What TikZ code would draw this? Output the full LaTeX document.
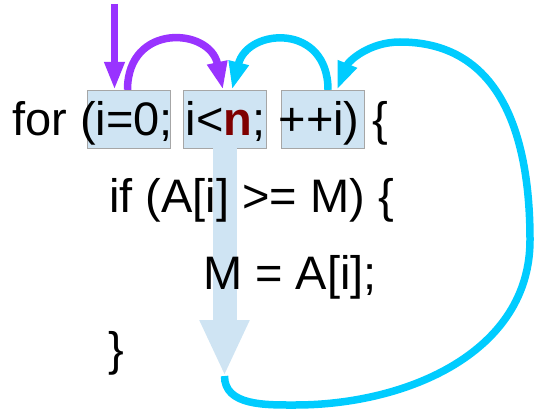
\documentclass[tikz,border=0pt]{standalone}
\usepackage{fontspec}
\setmainfont{Liberation Sans}
\usetikzlibrary{arrows.meta, positioning}
\definecolor{boxblue}{HTML}{CFE4F3}
\definecolor{loopviolet}{HTML}{9933FF}
\definecolor{loopcyan}{HTML}{00CCFF}
\definecolor{bound}{HTML}{7F0000}

\begin{document}
\begin{tikzpicture}[x=1pt, y=1pt,
  part/.style={draw=gray!70, fill=boxblue, minimum width=83pt, minimum height=58pt, inner sep=0pt},
  code/.style={anchor=base west, inner sep=0pt, font=\fontsize{47}{56}\selectfont},
  jump/.style={line width=7.5pt, -{Triangle[length=28pt,width=19pt]}},
  flow/.style={boxblue, line width=24pt, -{Triangle[length=56pt,width=46pt]}}]
  \useasboundingbox (0,0) rectangle (534,413);
  % ---- the three parts of the loop header ----
  \node[part] (init) at (128.5,294) {};
  \node[part] (cond) at (224.5,294) {};
  \node[part] (incr) at (323,294) {};
  % ---- body runs straight down ----
  \coordinate (ftip) at (224.5,37);
  \draw[flow] (cond.south) -- (ftip);
  % ---- code lines ----
  \node[code] (forline) at (12,278) {for (i=0; i<\textcolor{bound}{\textbf{n}}; ++i) \{};
  \node[code] (ifline) at (109,201) {if (A[i] >= M) \{};
  \node[code] (assign) at (203,124) {M = A[i];};
  \node[code] (close) at (108,48) {\}};
  % ---- entry and init -> cond ----
  \coordinate (entry) at (114.5,409);
  \draw[jump, loopviolet] (entry) -- ([xshift=-14pt]init.north);
  \draw[jump, loopviolet] ([xshift=-1pt]init.north) .. controls +(90:67) and +(102:64) .. ([xshift=-1.5pt]cond.north);
  % ---- incr -> cond, end of body -> incr ----
  \draw[jump, loopcyan] ([xshift=5pt]incr.north) .. controls +(90:67) and +(76:64) .. ([xshift=7.5pt]cond.north);
  \draw[jump, loopcyan] (ftip) to[out=-90, in=180] (295,8) to[out=0, in=-90] (530,173)
    to[out=90, in=0, looseness=1.1] (400,371) to[out=180, in=68] ([xshift=14pt]incr.north);
\end{tikzpicture}
\end{document}
